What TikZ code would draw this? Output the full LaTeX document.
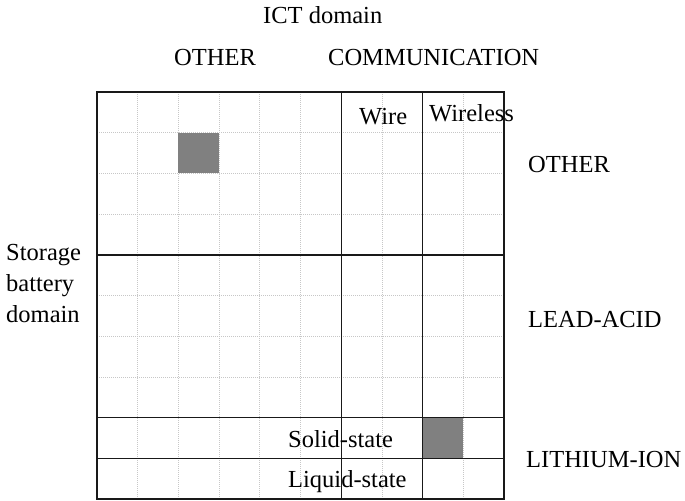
\documentclass[tikz,border=0pt]{standalone}
\usepackage{fontspec}
\setmainfont{Liberation Serif}
\begin{document}
\begin{tikzpicture}[x=1bp,y=-1bp,
  lbl/.style={inner sep=0pt, font=\fontsize{24.5bp}{31bp}\selectfont, text=black},
  gridline/.style={draw=black!22, dash pattern=on 1bp off 1bp, line width=0.8bp},
  frame/.style={draw=black!90, line width=1.4bp},
  cellfill/.style={fill=black!50}]
\useasboundingbox (0,0) rectangle (685,501);
\fill[white] (0,0) rectangle (685,501);
% dotted grid
\foreach \i in {1,...,9} {
  \draw[gridline] ({97+\i*40.7},92) -- ({97+\i*40.7},499);
  \draw[gridline] (97,{92+\i*40.7}) -- (504,{92+\i*40.7});
}
% shaded cells
\fill[cellfill] (178.4,132.7) rectangle (219.1,173.4);
\fill[cellfill] (422.6,417.6) rectangle (463.3,458.3);
% frame and domain dividers
\draw[frame] (97,92) rectangle (504,499);
\draw[frame] (341.2,92) -- (341.2,499);
\draw[frame] (422.6,92) -- (422.6,499);
\draw[frame] (97,254.8) -- (504,254.8);
\draw[frame] (97,417.6) -- (504,417.6);
\draw[frame] (97,458.3) -- (504,458.3);
% labels
\node[lbl, anchor=base west] (ict) at (263,24) {ICT domain};
\node[lbl, anchor=base west] (otherT) at (174,66) {OTHER};
\node[lbl, anchor=base west] (comm) at (328,66) {COMMUNICATION};
\node[lbl, anchor=base west] (wire) at (359,125) {Wire};
\node[lbl, anchor=base west] (wireless) at (429,122) {Wireless};
\node[lbl, anchor=base west] (otherR) at (528,173) {OTHER};
\node[lbl, anchor=base west] (lead) at (528,327) {LEAD-ACID};
\node[lbl, anchor=base west] (li) at (526,467) {LITHIUM-ION};
\node[lbl, anchor=base west] (solid) at (288,447) {Solid-state};
\node[lbl, anchor=base west] (liquid) at (288,487) {Liquid-state};
\node[lbl, anchor=west, align=left] (storage) at (6,284) {Storage\\battery\\domain};
\end{tikzpicture}
\end{document}
